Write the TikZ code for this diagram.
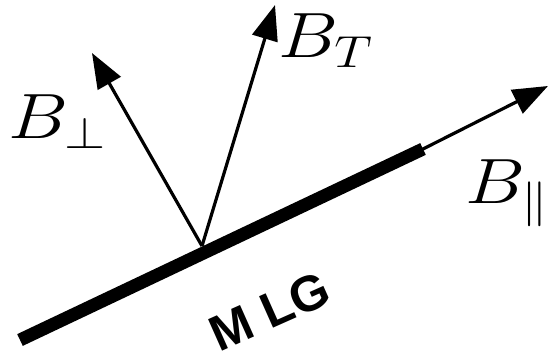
\RequirePackage{fix-cm}
\documentclass[tikz,border=0pt]{standalone}
\usepackage{fontspec}
\newfontfamily\mlgfont{Liberation Sans}
\usetikzlibrary{arrows.meta}
\tikzset{
  vec/.style={line width=3.2pt, -{Triangle[length=35pt,width=26pt]}},
  plate/.style={line width=13pt, line cap=butt},
  lab/.style={inner sep=0pt, anchor=base west, xscale=1.18, font=\fontsize{64}{68}\selectfont},
}
\begin{document}
\begin{tikzpicture}[x=1pt,y=-1pt]
\useasboundingbox (0,0) rectangle (550,358);
\coordinate (A) at (20,340);
\coordinate (E) at (423,149);
\coordinate (O) at (202,246);
\coordinate (Tperp) at (92,53);
\coordinate (TT) at (275,5);
\coordinate (Tpar) at (548,86);
\draw[plate] (A) -- (E);
\draw[vec, shorten <=-2pt] (E) -- (Tpar);
\draw[vec] (O) -- (Tperp);
\draw[vec] (O) -- (TT);
\node[lab] (lperp) at (8,139) {$B_\perp$};
\node[lab] (lT) at (278,58) {$B_T$};
\node[lab] (lpar) at (465,204) {$B_\parallel$};
\node[inner sep=0pt, rotate=24, font=\mlgfont\bfseries\fontsize{50}{54}\selectfont] (mlg) at (270,311) {M LG};
\end{tikzpicture}
\end{document}
